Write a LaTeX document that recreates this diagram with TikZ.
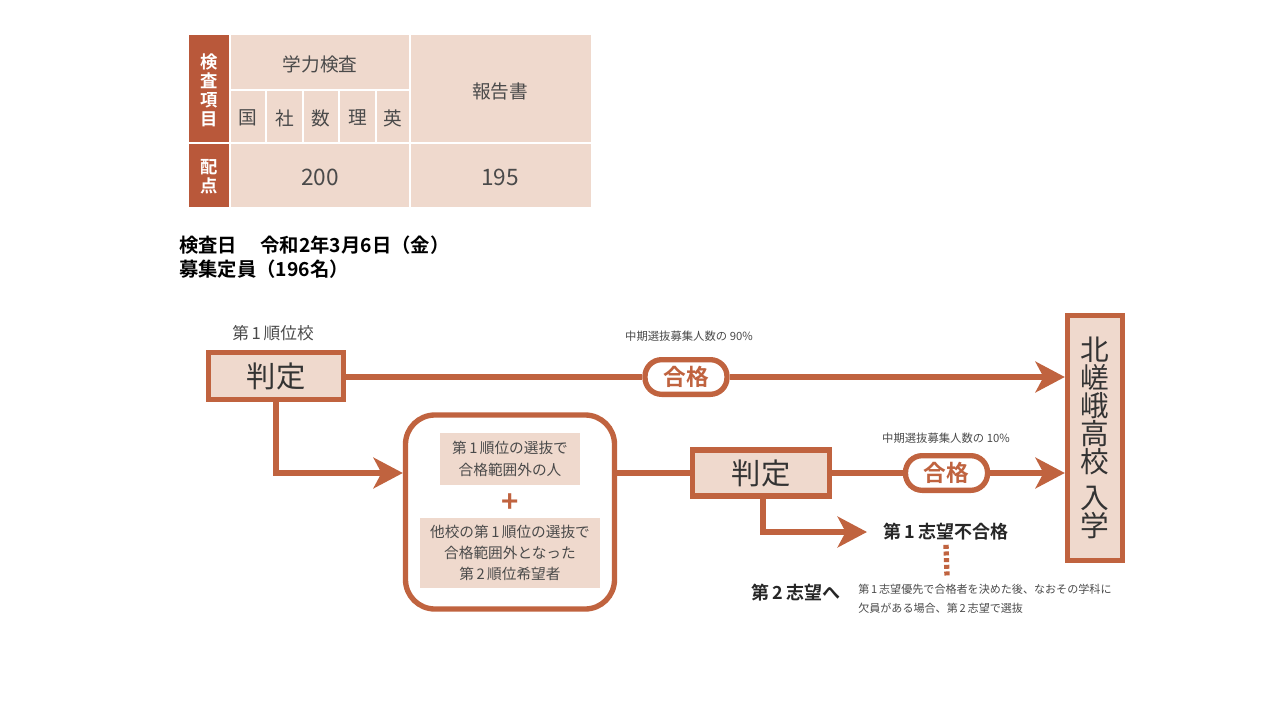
\documentclass[tikz,border=0pt]{standalone}
\usepackage{fontspec}
\setmainfont{Noto Sans CJK JP}[BoldFont={Noto Sans CJK JP Bold}]
\usetikzlibrary{arrows.meta}
\definecolor{brn}{HTML}{C0633F}
\definecolor{pnk}{HTML}{EFD9CD}
\definecolor{dk}{HTML}{B9583A}
\definecolor{txt}{HTML}{4A4A4A}
\definecolor{dtxt}{HTML}{333333}
\newcommand{\fsz}[2]{\fontsize{#1pt}{#2pt}\selectfont}
\begin{document}
\begin{tikzpicture}[x=0.75pt,y=-0.75pt,
  tbl/.style={inner sep=0pt, text=txt, font=\fsz{14}{16}},
  vt/.style={inner sep=0pt, text=white, font=\bfseries\fsz{13}{14.25}, align=center},
  brdr/.style={draw=brn, line width=4pt},
  judgebox/.style={brdr, fill=pnk, text=dtxt, font=\fsz{22}{26}, minimum width=101pt, minimum height=35pt, inner sep=0pt},
  pill/.style={brdr, fill=white, rounded corners=12.5pt, text=brn, font=\bfseries\fsz{17}{20}, minimum width=61.5pt, minimum height=26pt, inner sep=0pt},
  conn/.style={draw=brn, line width=4pt},
  arr/.style={conn, -{Stealth[length=22pt,width=23pt,inset=6pt]}},
  small/.style={inner sep=0pt, text=txt, font=\fsz{8.5}{11}},
  inbox/.style={fill=pnk, text=txt, font=\fsz{11}{16}, align=center, inner sep=0pt},
  bold/.style={inner sep=0pt, text=black!85, font=\bfseries\fsz{13.5}{16}}
]
\useasboundingbox (0,0) rectangle (1280,720);
% ---------- table ----------
\fill[pnk] (189,35) rectangle (591,207);
\fill[dk] (189,35) rectangle (229,207);
\begin{scope}[white, line width=1.5pt]
  \draw (189,143) -- (591,143);
  \draw (229,90) -- (410,90);
  \draw (229.5,35) -- (229.5,207);
  \draw (410,35) -- (410,207);
  \foreach \xx in {266,303,339,376} \draw (\xx,90) -- (\xx,143);
\end{scope}
\node[vt] (kensakoumoku) at (209,90) {検\\査\\項\\目};
\node[vt] (haiten) at (209,177) {配\\点};
\node[tbl] (gakuryoku) at (320,64) {学力検査};
\node[tbl] (houkoku) at (500,91) {報告書};
\node[tbl] (koku) at (248,118) {国};
\node[tbl] (sha) at (285,118) {社};
\node[tbl] (suu) at (321,118) {数};
\node[tbl] (ri) at (358,118) {理};
\node[tbl] (ei) at (393,118) {英};
\node[tbl, font=\fsz{17}{19}] (p200) at (320,177) {200};
\node[tbl, font=\fsz{17}{19}] (p195) at (500,177) {195};
% ---------- date ----------
\node[anchor=west, inner sep=0pt, font=\bfseries\fsz{14.5}{17}] (kensabi) at (179,245) {検査日\hspace{1.2em}令和2年3月6日（金）};
\node[anchor=west, inner sep=0pt, font=\bfseries\fsz{14.5}{17}] (teiin) at (179,269) {募集定員（196名）};
% ---------- flow ----------
\node[inner sep=0pt, text=txt, font=\fsz{12.5}{15}] (dai1) at (273,333) {第\,1\,順位校};
\node[judgebox] (judge1) at (276,376) {判定};
\node[pill] (pass1) at (686,377) {合格};
\node[small] (note90) at (689,336) {中期選抜募集人数の 90\%};
\node[brdr, fill=pnk, minimum width=41.25pt, minimum height=183.75pt, inner sep=0pt,
      text=dtxt, font=\fsz{21.5}{21}, align=center] (school) at (1095,438)
      {北\\嵯\\峨\\高\\校\\[6pt]入\\学};
\node[brdr, fill=white, rounded corners=22pt, minimum width=156.75pt, minimum height=145.5pt] (pool) at (510,512) {};
\node[inbox, minimum width=105pt, minimum height=39pt] (in1) at (510,459) {第\,1\,順位の選抜で\\合格範囲外の人};
\node[inner sep=0pt, text=brn, font=\bfseries\fsz{22}{22}] (plus) at (510,503) {+};
\node[inbox, minimum width=135pt, minimum height=52.5pt] (in2) at (510,553) {他校の第\,1\,順位の選抜で\\合格範囲外となった\\第\,2\,順位希望者};
\node[judgebox, minimum width=102.75pt, minimum height=34.5pt] (judge2) at (761,473) {判定};
\node[pill] (pass2) at (946.5,473) {合格};
\node[small] (note10) at (946,438) {中期選抜募集人数の 10\%};
\node[bold] (fail) at (946,532) {第\,1\,志望不合格};
\node[bold] (second) at (796,593) {第\,2\,志望へ};
\node[small, anchor=north west, align=left, font=\fsz{8.3}{14}] (note) at (858,584)
  {第\,1\,志望優先で合格者を決めた後、なおその学科に\\欠員がある場合、第\,2\,志望で選抜};
\coordinate (failtip) at (867,532);
\coordinate (dashend) at (947,576);
% connectors
\draw[conn] (judge1.east |- pass1) -- (pass1.west);
\draw[arr] (pass1.east) -- (pass1.east -| school.west);
\draw[arr] (judge1.south) |- (pool.west |- judge2.center);
\draw[conn] (pool.east |- judge2.center) -- (judge2.west);
\draw[conn] (judge2.east) -- (pass2.west);
\draw[arr] (pass2.east) -- (pass2.east -| school.west);
\draw[arr] ([xshift=1.5pt]judge2.south) |- (failtip);
\draw[conn, dash pattern=on 3pt off 2pt] ([yshift=-3pt]fail.south) -- (dashend);
\end{tikzpicture}
\end{document}
